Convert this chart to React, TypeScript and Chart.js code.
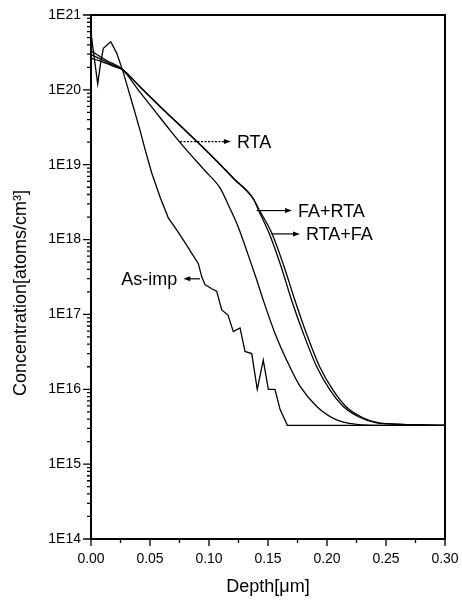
import React, { useEffect, useRef } from "react";
import { Chart, registerables } from "chart.js";

Chart.register(...registerables);

const FONT = '"Liberation Sans", Arial, Helvetica, sans-serif';

// ---- Data (depth in µm, concentration in atoms/cm^3) ----
const asImpDepth = [0.0, 0.003, 0.0057, 0.008, 0.0105, 0.0167, 0.0218, 0.0274, 0.0358, 0.0415, 0.0458, 0.0514, 0.0585, 0.0655, 0.0726, 0.0797, 0.0853, 0.0909, 0.0938, 0.0966, 0.1023, 0.1065, 0.1108, 0.1161, 0.1206, 0.1263, 0.1305, 0.1362, 0.1409, 0.146, 0.1503, 0.1559, 0.1602, 0.1664, 0.3];
const asImpConc = [5.8e20, 2.5e20, 1.2e20, 2.2e20, 3.6e20, 4.4e20, 3.1e20, 1.7e20, 6.0e19, 2.9e19, 1.6e19, 7.8e18, 3.7e18, 1.95e18, 1.35e18, 9.1e17, 6.6e17, 4.8e17, 3.2e17, 2.5e17, 2.2e17, 2.05e17, 1.15e17, 9.8e16, 5.9e16, 6.6e16, 3.2e16, 3.0e16, 1.0e16, 2.45e16, 1.0e16, 1.0e16, 5.4e15, 3.3e15, 3.3e15];

const rtaDepth = [0.0, 0.0136, 0.0269, 0.0415, 0.0542, 0.0669, 0.0805, 0.0966, 0.1093, 0.1178, 0.1246, 0.1331, 0.1404, 0.146, 0.1559, 0.1658, 0.1771, 0.1913, 0.2082, 0.2252, 0.245, 0.3];
const rtaConc = [3.3e20, 2.45e20, 1.86e20, 9.3e19, 5.2e19, 2.9e19, 1.6e19, 8.3e18, 4.9e18, 2.6e18, 1.5e18, 6.3e17, 2.9e17, 1.55e17, 5.6e16, 2.45e16, 1.1e16, 5.9e15, 3.9e15, 3.4e15, 3.3e15, 3.3e15];

const faRtaDepth = [0.0, 0.007, 0.0136, 0.02, 0.0269, 0.0415, 0.0585, 0.0811, 0.0924, 0.1065, 0.1206, 0.1376, 0.1418, 0.1508, 0.161, 0.17, 0.1799, 0.1913, 0.2025, 0.2138, 0.228, 0.2421, 0.2619, 0.3];
const faRtaConc = [2.95e20, 2.63e20, 2.34e20, 2.09e20, 1.86e20, 1.1e20, 6.0e19, 2.75e19, 1.86e19, 1.12e19, 6.6e18, 3.5e18, 2.5e18, 1.23e18, 4.4e17, 1.55e17, 5.6e16, 2.0e16, 9.8e15, 5.9e15, 4.2e15, 3.55e15, 3.4e15, 3.3e15];

const rtaFaDepth = [0.0, 0.007, 0.0136, 0.02, 0.0269, 0.0415, 0.0585, 0.0811, 0.0924, 0.1065, 0.1206, 0.1376, 0.1425, 0.1531, 0.1635, 0.1728, 0.1825, 0.1938, 0.205, 0.216, 0.23, 0.244, 0.264, 0.3];
const rtaFaConc = [2.63e20, 2.45e20, 2.24e20, 2.04e20, 1.86e20, 1.1e20, 6.0e19, 2.75e19, 1.86e19, 1.12e19, 6.6e18, 3.5e18, 2.5e18, 1.23e18, 4.4e17, 1.55e17, 5.6e16, 2.0e16, 9.8e15, 5.9e15, 4.2e15, 3.55e15, 3.4e15, 3.3e15];

// ---- Axes ----
const xTickValues = [0, 0.05, 0.1, 0.15, 0.2, 0.25, 0.3];
const xMinorTickValues = [0.025, 0.075, 0.125, 0.175, 0.225, 0.275];
const yTickValues = [1e14, 1e15, 1e16, 1e17, 1e18, 1e19, 1e20, 1e21];
const yMinorMultipliers = [2, 3, 4, 5, 6, 7, 8, 9];
const xTitle = "Depth[\u03bcm]";
const yTitle = "Concentration[atoms/cm\u00b3]";

// ---- Curve labels with arrows ----
const labelTexts = ["RTA", "FA+RTA", "RTA+FA", "As-imp"];
const labelTailDepth = [0.0754, 0.1404, 0.1531, 0.0924];
const labelTailConc = [2.04e19, 2.44e18, 1.19e18, 2.99e17];
const labelHeadDepth = [0.1186, 0.1703, 0.1771, 0.0782];
const labelDashed = [true, false, false, false];

const decorPlugin = {
  id: "decor",
  afterDraw(chart: any) {
    const { ctx, chartArea: a } = chart;
    const x = chart.scales.x;
    const y = chart.scales.y;
    ctx.save();
    ctx.strokeStyle = "#000";
    ctx.fillStyle = "#000";

    // frame
    ctx.lineWidth = 2;
    ctx.strokeRect(a.left, a.top, a.right - a.left, a.bottom - a.top);

    // y ticks (outward)
    ctx.lineWidth = 1.3;
    ctx.beginPath();
    yTickValues.forEach((v, i) => {
      const py = y.getPixelForValue(v);
      ctx.moveTo(a.left - 8, py);
      ctx.lineTo(a.left, py);
      if (i < yTickValues.length - 1) {
        yMinorMultipliers.forEach((m) => {
          const pm = y.getPixelForValue(v * m);
          ctx.moveTo(a.left - 4, pm);
          ctx.lineTo(a.left, pm);
        });
      }
    });
    // x ticks (outward)
    xTickValues.forEach((v) => {
      const px = x.getPixelForValue(v);
      ctx.moveTo(px, a.bottom);
      ctx.lineTo(px, a.bottom + 7);
    });
    xMinorTickValues.forEach((v) => {
      const px = x.getPixelForValue(v);
      ctx.moveTo(px, a.bottom);
      ctx.lineTo(px, a.bottom + 4);
    });
    ctx.stroke();

    // y title
    ctx.save();
    ctx.translate(21, (a.top + a.bottom) / 2 + 16);
    ctx.rotate(-Math.PI / 2);
    ctx.font = `18px ${FONT}`;
    ctx.textAlign = "center";
    ctx.textBaseline = "middle";
    ctx.fillText(yTitle, 0, 0);
    ctx.restore();

    // labels with arrows
    ctx.font = `18px ${FONT}`;
    ctx.textBaseline = "middle";
    labelTexts.forEach((t, i) => {
      const tx = x.getPixelForValue(labelTailDepth[i]);
      const ty = y.getPixelForValue(labelTailConc[i]);
      const hx = x.getPixelForValue(labelHeadDepth[i]);
      const dir = hx > tx ? 1 : -1;
      ctx.lineWidth = 1.2;
      ctx.setLineDash(labelDashed[i] ? [2, 1.5] : []);
      ctx.beginPath();
      ctx.moveTo(tx, ty);
      ctx.lineTo(hx - dir * 5, ty);
      ctx.stroke();
      ctx.setLineDash([]);
      ctx.beginPath();
      ctx.moveTo(hx, ty);
      ctx.lineTo(hx - dir * 7, ty - 2.5);
      ctx.lineTo(hx - dir * 7, ty + 2.5);
      ctx.closePath();
      ctx.fill();
      ctx.textAlign = dir > 0 ? "left" : "right";
      ctx.fillText(t, hx + dir * 6, ty + 1);
    });
    ctx.restore();
  },
};

function toPoints(xs: number[], ys: number[]) {
  return xs.map((d, i) => ({ x: d, y: ys[i] }));
}

export default function App() {
  const ref = useRef<HTMLCanvasElement | null>(null);
  useEffect(() => {
    if (!ref.current) return;
    const lineStyle = {
      borderColor: "#000",
      borderWidth: 1.3,
      pointRadius: 0,
      fill: false,
    };
    const chart = new Chart(ref.current, {
      type: "line",
      data: {
        datasets: [
          { label: "As-imp", data: toPoints(asImpDepth, asImpConc), tension: 0, ...lineStyle },
          { label: "RTA", data: toPoints(rtaDepth, rtaConc), cubicInterpolationMode: "monotone", ...lineStyle },
          { label: "FA+RTA", data: toPoints(faRtaDepth, faRtaConc), cubicInterpolationMode: "monotone", ...lineStyle },
          { label: "RTA+FA", data: toPoints(rtaFaDepth, rtaFaConc), cubicInterpolationMode: "monotone", ...lineStyle },
        ],
      } as any,
      options: {
        animation: false,
        responsive: false,
        devicePixelRatio: 1,
        layout: { padding: { left: 0, top: 15, right: 17, bottom: 0 } },
        plugins: { legend: { display: false }, tooltip: { enabled: false } },
        scales: {
          x: {
            type: "linear",
            min: 0,
            max: 0.3,
            grid: { display: false, drawTicks: false },
            border: { display: false },
            afterBuildTicks: (s: any) => {
              s.ticks = xTickValues.map((v) => ({ value: v }));
            },
            afterFit: (s: any) => {
              s.height = 61;
              s.paddingLeft = 0;
              s.paddingRight = 0;
            },
            ticks: {
              autoSkip: false,
              maxRotation: 0,
              padding: 12,
              color: "#000",
              font: { family: FONT, size: 14 },
              callback: (v: any) => Number(v).toFixed(2),
            },
            title: {
              display: true,
              text: xTitle,
              color: "#000",
              font: { family: FONT, size: 18 },
              padding: { top: 0, bottom: 2 },
            },
          },
          y: {
            type: "logarithmic",
            min: 1e14,
            max: 1e21,
            grid: { display: false, drawTicks: false },
            border: { display: false },
            afterBuildTicks: (s: any) => {
              s.ticks = yTickValues.map((v) => ({ value: v }));
            },
            afterFit: (s: any) => {
              s.width = 91;
              s.paddingTop = 0;
              s.paddingBottom = 0;
            },
            ticks: {
              autoSkip: false,
              padding: 10,
              color: "#000",
              font: { family: FONT, size: 14 },
              callback: (v: any) => "1E" + Math.round(Math.log10(Number(v))),
            },
          },
        },
      } as any,
      plugins: [decorPlugin],
    });
    return () => chart.destroy();
  }, []);
  return (
    <div style={{ position: "absolute", left: 0, top: 0, width: 462, height: 600, background: "#fff" }}>
      <canvas ref={ref} width={462} height={600} />
    </div>
  );
}
